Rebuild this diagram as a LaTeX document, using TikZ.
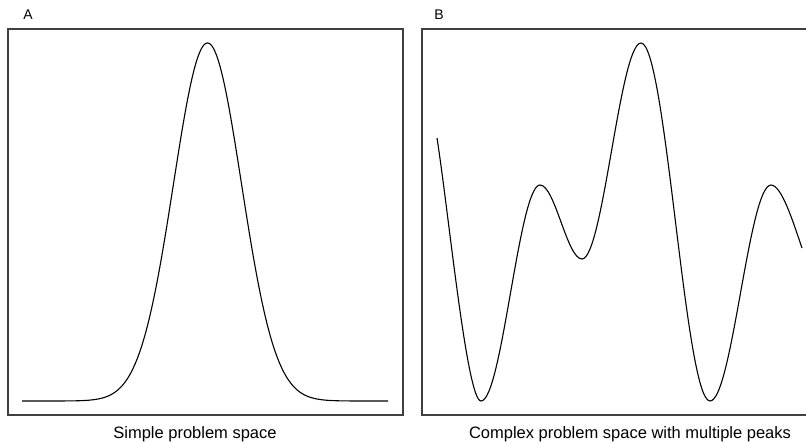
\documentclass[tikz,border=0pt]{standalone}
\usepackage{fontspec}
\setmainfont{Liberation Sans}
\begin{document}
\begin{tikzpicture}[x=1pt,y=-1pt,
  frame/.style={draw=black!75,line width=1.4pt},
  curve/.style={draw=black,line width=1.1pt,line join=round},
  panellabel/.style={font=\fontsize{14}{16}\selectfont,inner sep=0pt},
  caption/.style={font=\fontsize{16.5}{19}\selectfont,inner sep=0pt}]
\useasboundingbox (0,0) rectangle (806,444);
\fill[white] (0,0) rectangle (806,444);
% panel A
\draw[frame] (8,29) rectangle (403,415);
\node[panellabel] (labA) at (28,15) {A};
\draw[curve] plot[domain=22:388,samples=250,smooth] (\x,{401-358*exp(-0.5*((\x-207.5)/34)^2)});
\node[caption] (capA) at (195,434) {Simple problem space};
% panel B
\draw[frame] (806,29) -- (422,29) -- (422,415) -- (806,415);
\node[panellabel] (labB) at (439,15) {B};
\draw[curve] (437,138)
  .. controls (449,215) and (467,401) .. (481,401)
  .. controls (502,401) and (519,185) .. (540,185)
  .. controls (555,185) and (567,259) .. (582,259)
  .. controls (603,259) and (620,43) .. (641,43)
  .. controls (666,43) and (685,401) .. (710,401)
  .. controls (732,401) and (749,185) .. (771,185)
  .. controls (782,185) and (794,225) .. (802,248);
\node[caption] (capB) at (630,434) {Complex problem space with multiple peaks};
\end{tikzpicture}
\end{document}
